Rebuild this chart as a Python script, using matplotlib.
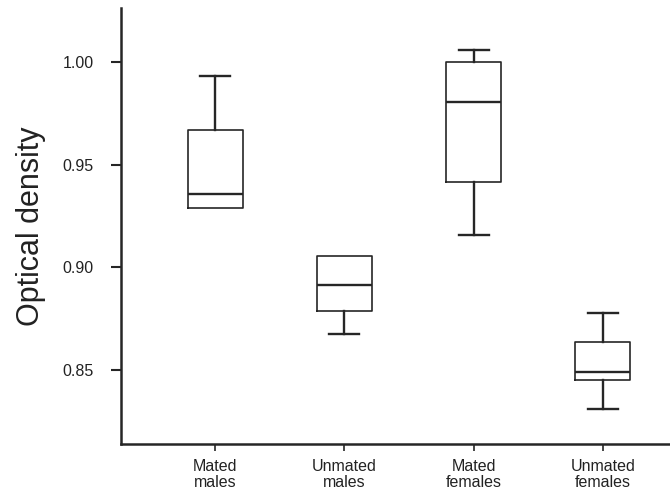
import matplotlib
matplotlib.use('Agg')
import matplotlib.pyplot as plt

plt.rcParams['font.family'] = ['Liberation Sans', 'DejaVu Sans']

# box statistics
groups = ['Mated\nmales', 'Unmated\nmales', 'Mated\nfemales', 'Unmated\nfemales']
whislo = [0.9289, 0.8675, 0.9155, 0.8309]
q1 = [0.9289, 0.8785, 0.9413, 0.8452]
med = [0.9358, 0.8911, 0.9807, 0.8492]
q3 = [0.9670, 0.9056, 0.9998, 0.8636]
whishi = [0.9933, 0.9056, 1.0060, 0.8777]

stats = []
for i in range(len(groups)):
    stats.append(dict(whislo=whislo[i], q1=q1[i], med=med[i], q3=q3[i],
                      whishi=whishi[i], fliers=[], label=groups[i]))

ink = '#262626'
fig = plt.figure(figsize=(6.7, 4.93), dpi=100)
ax = fig.add_axes([0.181, 0.0994, 0.819, 0.8846])

parts = ax.bxp(stats, positions=range(len(groups)), widths=0.425, capwidths=0.232,
               showfliers=False,
               boxprops=dict(color=ink, linewidth=1.2, solid_joinstyle='round'),
               medianprops=dict(color=ink, linewidth=1.7),
               whiskerprops=dict(color=ink, linewidth=1.7),
               capprops=dict(color=ink, linewidth=1.7))

# no cap where the whisker has zero length
for i in range(len(groups)):
    if whislo[i] == q1[i]:
        parts['caps'][2 * i].set_visible(False)
    if whishi[i] == q3[i]:
        parts['caps'][2 * i + 1].set_visible(False)

ax.set_xlim(-0.727, 3.519)
ax.set_ylim(0.8139, 1.0263)
ax.set_yticks([0.85, 0.90, 0.95, 1.00])
ax.set_yticklabels(['0.85', '0.90', '0.95', '1.00'])
ax.set_xticks(range(len(groups)))
ax.set_xticklabels(groups, linespacing=1.1)

ax.tick_params(axis='y', length=7, width=1.5, color=ink, pad=13, labelsize=11.5, labelcolor='#222222')
ax.tick_params(axis='x', length=5, width=1.2, color=ink, pad=6, labelsize=11.5, labelcolor='#222222')

for side in ['top', 'right']:
    ax.spines[side].set_visible(False)
for side in ['left', 'bottom']:
    ax.spines[side].set_linewidth(1.8)
    ax.spines[side].set_color(ink)

ax.set_ylabel('Optical density', fontsize=22, color='#222222', labelpad=12)

fig.savefig('out.png', dpi=100)
